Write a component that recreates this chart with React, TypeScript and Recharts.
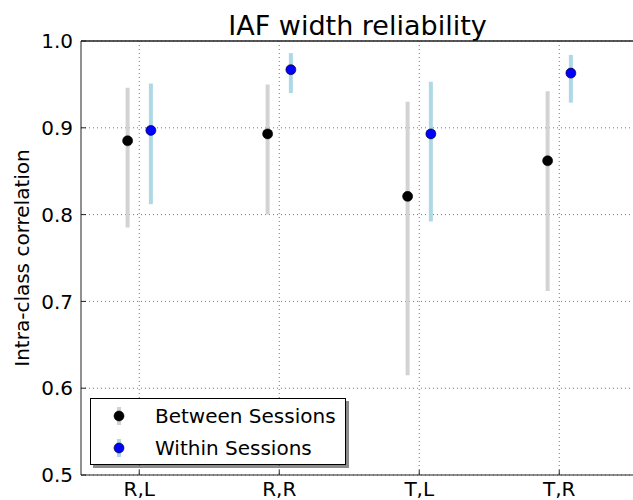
import React from "react"
import { ScatterChart, Scatter, ErrorBar, XAxis, YAxis, CartesianGrid, Legend, ReferenceLine } from "recharts"

const CATEGORIES = ["R,L", "R,R", "T,L", "T,R"]
const BETWEEN_ICC = [0.885, 0.893, 0.821, 0.862]
const BETWEEN_LOW = [0.785, 0.8, 0.615, 0.712]
const BETWEEN_HIGH = [0.946, 0.95, 0.93, 0.942]
const WITHIN_ICC = [0.897, 0.967, 0.893, 0.963]
const WITHIN_LOW = [0.812, 0.94, 0.792, 0.929]
const WITHIN_HIGH = [0.951, 0.986, 0.953, 0.984]
const Y_TICKS = [0.5, 0.6, 0.7, 0.8, 0.9, 1.0]
const X_TICKS = CATEGORIES.map((_, i) => i)

const DODGE = 0.083
const X_DOMAIN = [-0.416, 3.534]
const FONT = "DejaVu Sans"

const SERIES = [
  { name: "Between Sessions", dot: "#000000", bar: "#d3d3d3" },
  { name: "Within Sessions", dot: "#0000ff", bar: "#add8e6" },
]

const toPoints = (icc: number[], low: number[], high: number[], shift: number) =>
  icc.map((v, i) => ({ x: i + shift, y: v, err: [v - low[i], high[i] - v] }))

const betweenData = toPoints(BETWEEN_ICC, BETWEEN_LOW, BETWEEN_HIGH, -DODGE)
const withinData = toPoints(WITHIN_ICC, WITHIN_LOW, WITHIN_HIGH, DODGE)

const dotShape = (fill: string) => (props: any) =>
  <circle cx={props.cx} cy={props.cy} r={5} fill={fill} stroke="#000" strokeWidth={0.6} />

// title hangs off the top frame line
function ChartTitle(props: any) {
  const vb = props.viewBox || { x: 81, y: 41, width: 553 }
  return (
    <text x={vb.x + vb.width / 2} y={vb.y - 6} textAnchor="middle" fontSize={27} fontFamily={FONT} fill="#000">
      IAF width reliability
    </text>
  )
}

function YTitle(props: any) {
  const vb = props.viewBox || { y: 41, height: 434 }
  const cx = 22
  const cy = vb.y + vb.height / 2
  return (
    <text x={cx} y={cy} transform={`rotate(-90 ${cx} ${cy})`} textAnchor="middle" dominantBaseline="central"
      fontSize={20} fontFamily={FONT} fill="#000">
      Intra-class correlation
    </text>
  )
}

function LegendBox() {
  return (
    <div style={{
      position: "relative", width: 254, height: 65, border: "1px solid #000", background: "#fff",
      boxShadow: "3px 3px 0 rgba(0,0,0,0.45)", fontFamily: FONT, fontSize: 20, color: "#000",
    }}>
      {SERIES.map((s, i) => (
        <div key={s.name} style={{ position: "absolute", left: 0, top: 2 + i * 31.7, height: 30, width: 254 }}>
          <svg width={20} height={30} style={{ position: "absolute", left: 18, top: 0 }}>
            <line x1={10} y1={6} x2={10} y2={24} stroke={s.bar} strokeWidth={4} />
            <circle cx={10} cy={15} r={5} fill={s.dot} stroke="#000" strokeWidth={0.6} />
          </svg>
          <span style={{ position: "absolute", left: 64, top: 0, lineHeight: "30px", whiteSpace: "nowrap" }}>
            {s.name}
          </span>
        </div>
      ))}
    </div>
  )
}

export default function App() {
  return (
    <div style={{ position: "absolute", left: 0, top: 0, width: 633, height: 500, overflow: "hidden", background: "#fff" }}>
      <ScatterChart width={640} height={500} margin={{ top: 40, right: 6, bottom: 0, left: 0 }}>
        <CartesianGrid stroke="#777" strokeDasharray="1 3" horizontalValues={Y_TICKS} verticalValues={X_TICKS} />
        <XAxis
          type="number"
          dataKey="x"
          domain={X_DOMAIN}
          ticks={X_TICKS}
          allowDataOverflow
          tickFormatter={(v) => CATEGORIES[v] ?? ""}
          height={25}
          tickSize={-5}
          tickMargin={12}
          stroke="#222"
          tick={{ fill: "#000", fontSize: 20, fontFamily: FONT }}
        />
        <XAxis
          xAxisId="top"
          orientation="top"
          type="number"
          dataKey="x"
          domain={X_DOMAIN}
          ticks={X_TICKS}
          allowDataOverflow
          height={1}
          tickSize={-5}
          tick={false}
          stroke="#222"
        />
        <YAxis
          type="number"
          dataKey="y"
          domain={[0.5, 1.0]}
          ticks={Y_TICKS}
          allowDataOverflow
          width={81}
          tickSize={-5}
          tickMargin={13}
          stroke="#222"
          tickFormatter={(v) => v.toFixed(1)}
          tick={{ fill: "#000", fontSize: 20, fontFamily: FONT }}
          label={<YTitle />}
        />
        <ReferenceLine y={1.0} stroke="#222" strokeWidth={1} label={<ChartTitle />} />
        <Legend
          layout="horizontal"
          verticalAlign="middle"
          align="center"
          content={<LegendBox />}
          wrapperStyle={{ position: "absolute", left: 90, top: 398, width: 256, height: 67 }}
        />
        <Scatter name={SERIES[0].name} data={betweenData} fill={SERIES[0].dot} shape={dotShape(SERIES[0].dot)} isAnimationActive={false}>
          <ErrorBar dataKey="err" direction="y" width={0} strokeWidth={4} stroke={SERIES[0].bar} isAnimationActive={false} />
        </Scatter>
        <Scatter xAxisId="top" name={SERIES[1].name} data={withinData} fill={SERIES[1].dot} shape={dotShape(SERIES[1].dot)} isAnimationActive={false}>
          <ErrorBar dataKey="err" direction="y" width={0} strokeWidth={4} stroke={SERIES[1].bar} isAnimationActive={false} />
        </Scatter>
      </ScatterChart>
    </div>
  )
}
